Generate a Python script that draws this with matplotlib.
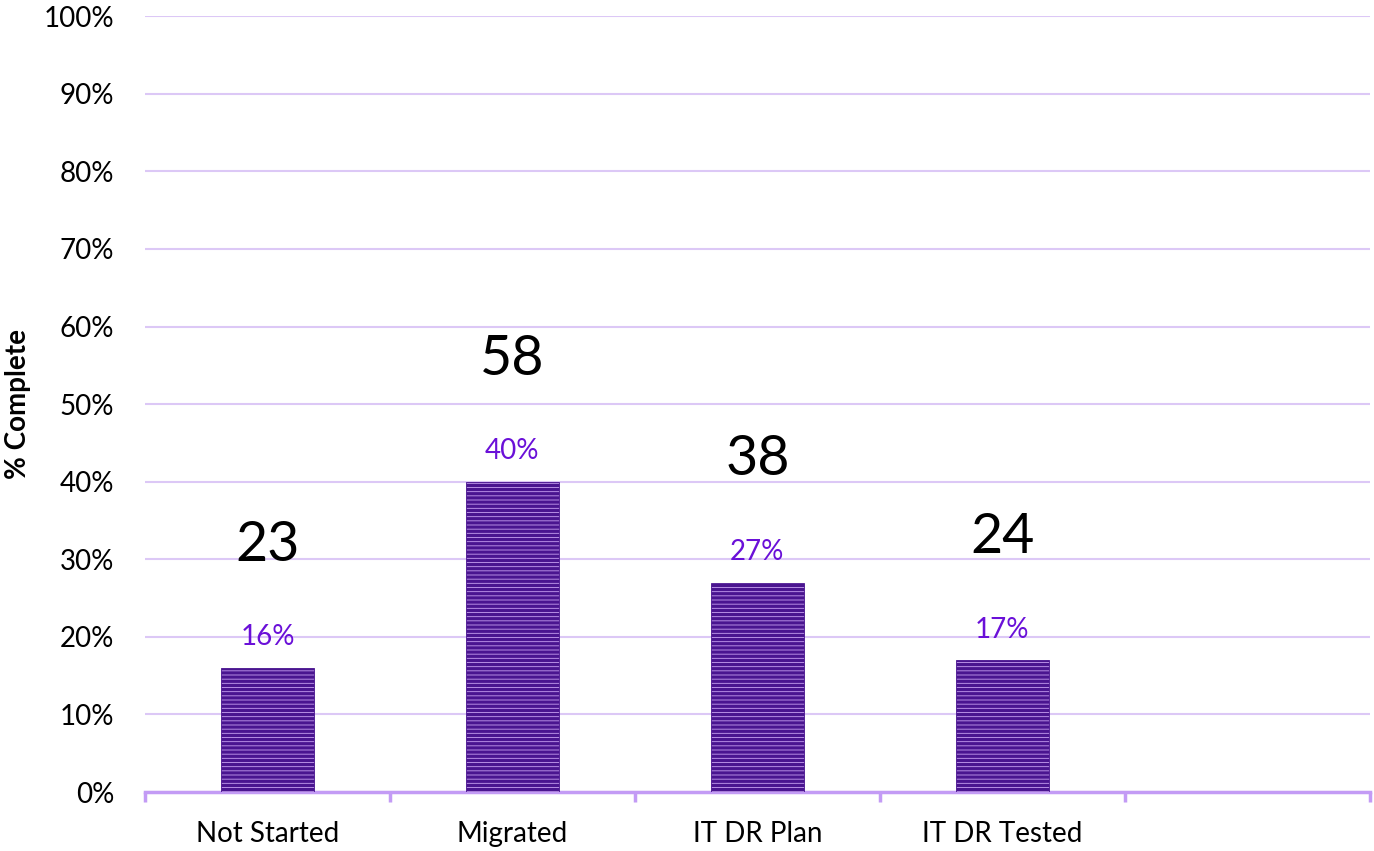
import numpy as np
import matplotlib.pyplot as plt
import matplotlib as mpl

categories = ["Not Started", "Migrated", "IT DR Plan", "IT DR Tested", ""]
pct_complete = [16, 40, 27, 17]
counts = [23, 58, 38, 24]

plt.rcParams['font.family'] = ['Lato', 'DejaVu Sans']
mpl.rcParams['hatch.linewidth'] = 2.4
mpl.rcParams['hatch.color'] = '#33056a'

fig = plt.figure(figsize=(13.74, 8.51), dpi=100)
ax = fig.add_axes([0.1055, 0.0693, 0.8915, 0.9117])

x = np.arange(len(categories))
xs = x[:len(pct_complete)]
ax.bar(xs, pct_complete, width=0.38, color='#c8a2f2', edgecolor='#4a1590',
       linewidth=0.6, hatch='----', zorder=3)

# percentage labels above bars
for xi, v in zip(xs, pct_complete):
    ax.annotate(f"{v}%", (xi, v), xytext=(0, 22), textcoords='offset points',
                ha='center', va='center', fontsize=20, color='#6a10d8')

# count labels
for xi, v, c in zip(xs, pct_complete, counts):
    ax.text(xi, v + 15.8, str(c), ha='center', va='center', fontsize=40, color='black')

ax.set_ylim(0, 100)
ax.set_xlim(-0.5, len(categories) - 0.5)
ax.set_yticks(np.arange(0, 101, 10))
ax.set_yticklabels([f"{t}%" for t in range(0, 101, 10)], fontsize=20)
ax.tick_params(axis='y', length=0, pad=22)
ax.yaxis.grid(True, color='#dcc8f6', linewidth=1.5, zorder=0)
ax.set_axisbelow(True)

# ticks at category boundaries, labels at centers
ax.set_xticks(np.arange(-0.5, len(categories)))
ax.set_xticklabels([])
ax.tick_params(axis='x', which='major', length=7, width=2.5, color='#c39bf5', direction='out')
ax.set_xticks(x, minor=True)
ax.set_xticklabels(categories, minor=True, fontsize=20)
ax.tick_params(axis='x', which='minor', length=0, pad=21)

for s in ['left', 'top', 'right']:
    ax.spines[s].set_visible(False)
ax.spines['bottom'].set_color('#c39bf5')
ax.spines['bottom'].set_linewidth(2.5)

ax.set_ylabel("% Complete", fontsize=20, fontweight='bold')
ax.yaxis.set_label_coords(-0.093, 0.5)

fig.savefig("out.png", dpi=100)
